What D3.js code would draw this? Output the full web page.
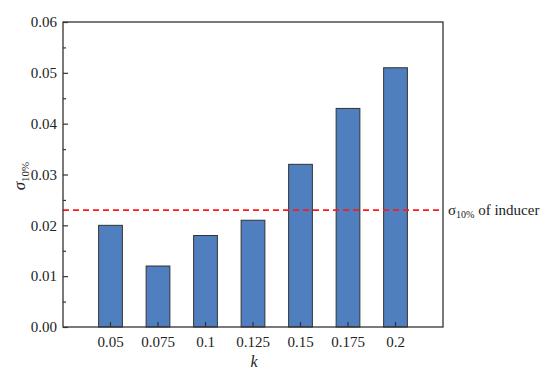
<!DOCTYPE html>
<html><head><meta charset="utf-8">
<script src="https://cdn.jsdelivr.net/npm/d3@7"></script>
<style>body{margin:0;background:#fff}svg{display:block}text{font-family:"Liberation Serif","Times New Roman",serif;fill:#222}</style>
</head><body><svg id="c" width="550" height="384"></svg>
<script>
const categories = ["0.05","0.075","0.1","0.125","0.15","0.175","0.2"];
const values = [0.020, 0.012, 0.018, 0.021, 0.032, 0.043, 0.051];
const yTicks = [0, 0.01, 0.02, 0.03, 0.04, 0.05, 0.06];
const yMinorTicks = [0.005, 0.015, 0.025, 0.035, 0.045, 0.055];
const reference = 0.023;

const svg = d3.select("#c");
const L = 63, R = 443, T = 22, B = 327;
const x = d3.scaleBand().domain(categories).range([L, R]).paddingInner(0.5).paddingOuter(0.75);
const y = d3.scaleLinear().domain([0, 0.06]).range([B, T]);

// bars
svg.append("g").selectAll("rect").data(values).join("rect")
  .attr("x", (d,i) => x(categories[i]))
  .attr("y", d => y(d))
  .attr("width", x.bandwidth())
  .attr("height", d => B - y(d))
  .attr("fill", "#4f7fbf")
  .attr("stroke", "#333")
  .attr("stroke-width", 1);

// reference line
svg.append("line")
  .attr("x1", L).attr("x2", R).attr("y1", y(reference)).attr("y2", y(reference))
  .attr("stroke", "#ff1a1a").attr("stroke-width", 1.8).attr("stroke-dasharray", "6,4");

// axes (ticks inward)
const ax = svg.append("g").attr("transform", `translate(${L},0)`)
  .call(d3.axisLeft(y).tickValues(yTicks).tickFormat(d3.format(".2f")).tickSizeInner(-5).tickSizeOuter(0).tickPadding(6));
const axm = svg.append("g").attr("transform", `translate(${L},0)`)
  .call(d3.axisLeft(y).tickValues(yMinorTicks).tickFormat("").tickSizeInner(-3).tickSizeOuter(0));
const bx = svg.append("g").attr("transform", `translate(0,${B})`)
  .call(d3.axisBottom(x).tickSizeInner(-5).tickSizeOuter(0).tickPadding(9));
[ax, axm, bx].forEach(g => {
  g.select(".domain").remove();
  g.selectAll("line").attr("stroke", "#333").attr("stroke-width", 1.2);
  g.selectAll("text").attr("font-size", 15).attr("fill", "#222")
   .style("font-family", '"Liberation Serif","Times New Roman",serif');
});

// frame
svg.append("rect").attr("x", L).attr("y", T).attr("width", R - L).attr("height", B - T)
  .attr("fill", "none").attr("stroke", "#333").attr("stroke-width", 1.3);

// axis titles
svg.append("text").attr("x", 254).attr("y", 367).attr("text-anchor", "middle")
  .attr("font-size", 16).attr("font-style", "italic").text("k");
const yl = svg.append("text").attr("transform", "translate(25,176) rotate(-90)").attr("text-anchor", "middle")
  .attr("font-size", 17);
yl.append("tspan").attr("font-style", "italic").text("σ");
yl.append("tspan").attr("font-size", 11).attr("dy", 4).text("10%");

// reference label
const rl = svg.append("text").attr("x", 448).attr("y", y(reference) + 5).attr("font-size", 15);
rl.append("tspan").text("σ");
rl.append("tspan").attr("font-size", 10).attr("dy", 3).text("10%");
rl.append("tspan").attr("dy", -3).text(" of inducer");
</script></body></html>
